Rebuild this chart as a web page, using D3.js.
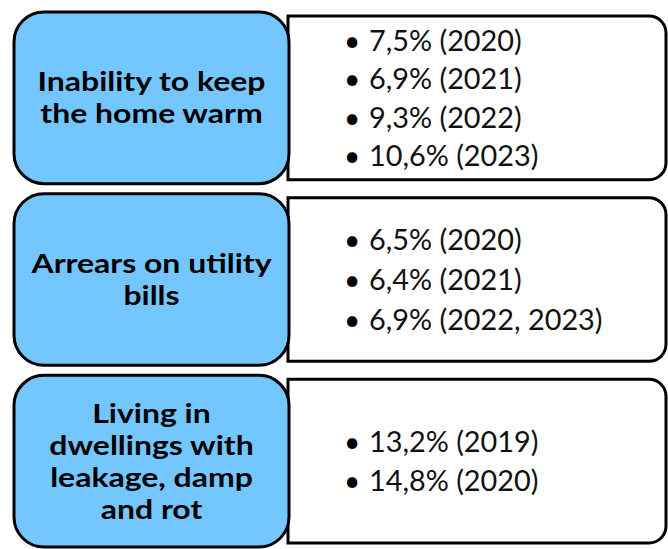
<!DOCTYPE html>
<html><head><meta charset="utf-8">
<script src="https://cdn.jsdelivr.net/npm/d3@7"></script>
<style>html,body{margin:0;padding:0;background:#fff;overflow:hidden}</style>
</head><body><svg id="c" width="668" height="549"></svg>
<script>
// ---- data ----
const categories = ["Inability to keep the home warm", "Arrears on utility bills", "Living in dwellings with leakage, damp and rot"];
const categoryLines = [["Inability to keep", "the home warm"], ["Arrears on utility", "bills"], ["Living in", "dwellings with", "leakage, damp", "and rot"]];
const warmValues = [7.5, 6.9, 9.3, 10.6];
const warmYears = [["2020"], ["2021"], ["2022"], ["2023"]];
const arrearsValues = [6.5, 6.4, 6.9];
const arrearsYears = [["2020"], ["2021"], ["2022", "2023"]];
const dampValues = [13.2, 14.8];
const dampYears = [["2019"], ["2020"]];

// ---- layout ----
const W = 668, H = 549;
const svg = d3.select("#c");
const fmt = d3.formatLocale({decimal: ",", thousands: ".", grouping: [3], currency: ["", "€"]}).format(".1f");
const valueSets = [warmValues, arrearsValues, dampValues];
const yearSets = [warmYears, arrearsYears, dampYears];
const rows = categories.map((c, i) => ({
  name: c, lines: categoryLines[i],
  items: valueSets[i].map((v, j) => `${fmt(v)}% (${yearSets[i][j].join(", ")})`)
}));

const y = d3.scaleBand().domain(categories).range([12, 547]).paddingInner(0.055);
const x = d3.scaleLinear().domain([0, 1]).range([14, 666]);
const split = x.invert(289);

const g = svg.selectAll("g.row").data(rows).join("g").attr("class", "row");

// white boxes (square left, rounded right)
g.append("path")
  .attr("d", d => {
    const x0 = x(split) - 1, x1 = x(1), y0 = y(d.name) + 4, y1 = y(d.name) + y.bandwidth() - 4, r = 17;
    return `M${x0},${y0}H${x1 - r}A${r},${r} 0 0 1 ${x1},${y0 + r}V${y1 - r}A${r},${r} 0 0 1 ${x1 - r},${y1}H${x0}Z`;
  })
  .attr("fill", "#fff").attr("stroke", "#000").attr("stroke-width", 3);

// blue boxes
g.append("rect")
  .attr("x", x(0)).attr("y", d => y(d.name))
  .attr("width", x(split) - x(0)).attr("height", y.bandwidth())
  .attr("rx", 30).attr("ry", 30)
  .attr("fill", "#74C6FE").attr("stroke", "#000").attr("stroke-width", 3);

// titles and items
g.each(function(d) {
  const cy = y(d.name) + y.bandwidth() / 2;
  const n = d.lines.length;
  const cx = (x(0) + x(split)) / 2;
  d3.select(this).selectAll("text.title").data(d.lines).join("text")
    .attr("class", "title")
    .attr("transform", (t, i) => `translate(${cx},${cy + (i - (n - 1) / 2) * 32 + 9.5}) scale(1.23,1)`)
    .attr("text-anchor", "middle")
    .attr("font-family", "Lato, sans-serif").attr("font-weight", 700)
    .attr("font-size", 26).attr("fill", "#000")
    .text(t => t);

  const m = d.items.length;
  const sp = m === 3 ? 40 : 38.5;
  const it = d3.select(this).selectAll("g.item").data(d.items).join("g").attr("class", "item")
    .attr("transform", (t, i) => `translate(0,${cy + (i - (m - 1) / 2) * sp + 10.5})`);
  it.append("text").attr("x", 352).attr("text-anchor", "middle")
    .attr("font-family", "Lato, sans-serif").attr("font-size", 28).attr("fill", "#000")
    .text("•");
  it.append("text").attr("transform", "translate(369,0) scale(1.03,1)")
    .attr("font-family", "Lato, sans-serif").attr("font-size", 28).attr("fill", "#111")
    .text(t => t);
});
</script>
</body></html>
